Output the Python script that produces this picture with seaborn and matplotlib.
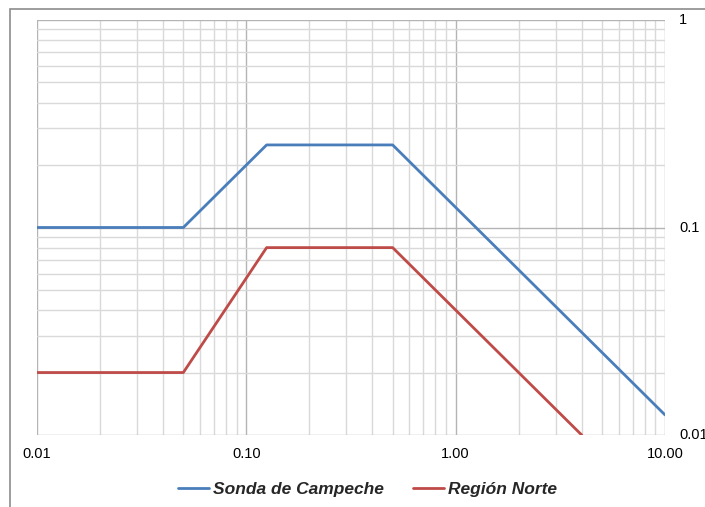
import matplotlib
matplotlib.use("Agg")
import matplotlib.pyplot as plt
import seaborn as sns
import pandas as pd
from matplotlib.patches import Rectangle
from matplotlib.lines import Line2D
from matplotlib.ticker import FixedLocator, NullFormatter, LogLocator

sns.set_theme(style="white")
plt.rcParams['font.family'] = ['Arial', 'Liberation Sans', 'DejaVu Sans']

series_names = ["Sonda de Campeche", "Región Norte"]
campeche_x = [0.01, 0.05, 0.125, 0.5, 10.0]
campeche_y = [0.1, 0.1, 0.25, 0.25, 0.0125]
norte_x = [0.01, 0.05, 0.125, 0.5, 4.0]
norte_y = [0.02, 0.02, 0.08, 0.08, 0.01]
x_ticks = [0.01, 0.1, 1.0, 10.0]
x_labels = ["0.01", "0.10", "1.00", "10.00"]
y_ticks = [0.01, 0.1, 1.0]
y_labels = ["0.01", "0.1", "1"]
colors = ["#4a7ebb", "#be4b48"]

df = pd.concat([
    pd.DataFrame({"x": campeche_x, "y": campeche_y, "serie": series_names[0]}),
    pd.DataFrame({"x": norte_x, "y": norte_y, "serie": series_names[1]}),
], ignore_index=True)

fig = plt.figure(figsize=(7.05, 5.07), dpi=100)
ax = fig.add_axes([37/705, 1-435/507, (665-37)/705, (435-20)/507])
ax.set_xscale("log")
ax.set_yscale("log")

sns.lineplot(data=df, x="x", y="y", hue="serie", palette=colors, ax=ax,
             linewidth=2.0, sort=False, estimator=None, legend=False, zorder=3)

ax.set_xlim(0.01, 10)
ax.set_ylim(0.01, 1)
ax.xaxis.set_major_locator(FixedLocator(x_ticks))
ax.set_xticklabels(x_labels)
ax.yaxis.set_major_locator(FixedLocator(y_ticks))
ax.set_yticklabels(y_labels)
ax.xaxis.set_minor_locator(LogLocator(base=10, subs=range(2, 10)))
ax.yaxis.set_minor_locator(LogLocator(base=10, subs=range(2, 10)))
ax.xaxis.set_minor_formatter(NullFormatter())
ax.yaxis.set_minor_formatter(NullFormatter())
ax.yaxis.tick_right()
ax.tick_params(axis="both", which="both", length=0, labelsize=10.5, colors="#000000")
ax.tick_params(axis="x", pad=9)
ax.tick_params(axis="y", pad=10)
for lab in ax.get_yticklabels():
    lab.set_verticalalignment("center")

ax.grid(True, which="major", color="#b4b4b4", linewidth=1.0, zorder=1)
ax.grid(True, which="minor", color="#d9d9d9", linewidth=1.0, zorder=1)
ax.set_axisbelow(True)
for s in ax.spines.values():
    s.set_visible(False)
ax.set_xlabel("")
ax.set_ylabel("")

handles = [Line2D([0], [0], color=c, linewidth=2.0) for c in colors]
leg = fig.legend(handles, series_names, loc="center", bbox_to_anchor=(0.521, 1-489/507),
                 ncol=2, frameon=False, handlelength=1.8, handletextpad=0.2,
                 columnspacing=1.7,
                 prop={"weight": "bold", "style": "italic", "size": 12.5})

fig.patches.append(Rectangle((10/705, -0.01), 1.0, 1-9/507+0.01, transform=fig.transFigure,
                             fill=False, edgecolor="#8c8c8c", linewidth=1.2))

fig.savefig("out.png", dpi=100)
